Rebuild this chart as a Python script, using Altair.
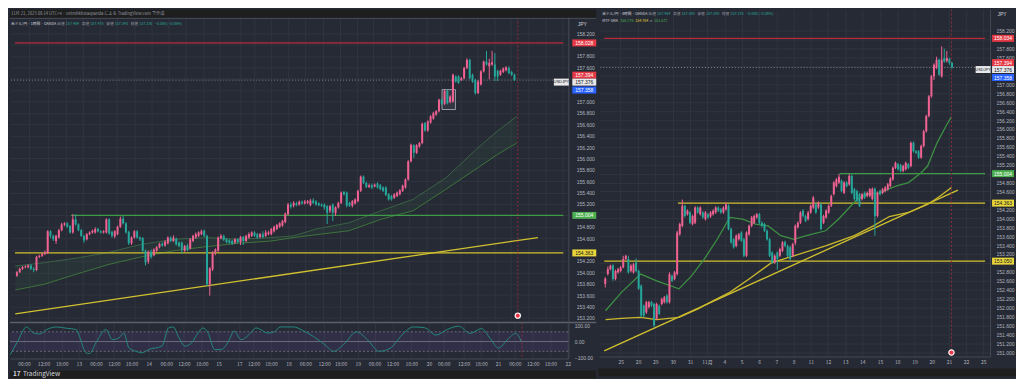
import altair as alt
import pandas as pd

# ---------------- colours / fonts ----------------
FONT = "Noto Sans CJK JP"
NUMF = "Liberation Sans"
BG = "#262a35"
DARK = "#1e1e1e"
GRID = "#30343f"
AXT = "#b2b5be"
BORDER = "#454955"
UP = "#f06292"
DN = "#26a69a"
GRAYT = "#9598a1"
LVL = {"red": "#b8283a", "green": "#3f9a47", "yellow": "#d2c12f"}
BOX = {"red": "#e53945", "green": "#4caf50", "yellow": "#e9d63a", "blue": "#2962ff", "white": "#e8e8ea"}
BOXTXT = {"red": "#ffffff", "green": "#ffffff", "yellow": "#131722", "blue": "#ffffff", "white": "#131722"}

# ---------------- left panel: USD/JPY 1h candles ----------------
L_open = [153.94,154.00,154.06,154.09,154.09,154.12,154.06,154.04,154.27,154.29,
          154.32,154.34,154.72,154.64,154.55,154.61,154.74,154.84,154.86,154.81,
          154.70,154.93,154.84,154.74,154.64,154.58,154.67,154.70,154.70,154.76,
          154.72,154.70,154.70,154.93,154.71,154.63,154.67,154.80,154.94,154.86,
          154.71,154.51,154.61,154.72,154.61,154.60,154.38,154.19,154.36,154.30,
          154.38,154.44,154.50,154.47,154.51,154.61,154.55,154.59,154.52,154.52,
          154.38,154.47,154.42,154.55,154.61,154.64,154.67,154.73,154.64,153.79,
          154.05,154.35,154.38,154.60,154.64,154.58,154.56,154.55,154.52,154.58,
          154.53,154.62,154.55,154.61,154.64,154.70,154.67,154.62,154.67,154.64,
          154.67,154.67,154.72,154.76,154.80,154.82,154.88,155.02,155.19,
          155.17,155.21,155.19,155.24,155.21,155.22,155.18,155.26,155.24,155.21,
          155.19,155.19,155.16,155.08,155.19,155.04,155.14,155.22,155.41,155.40,
          155.22,155.17,155.21,155.25,155.43,155.68,155.57,155.50,155.53,155.51,
          155.56,155.53,155.49,155.49,155.37,155.34,155.31,155.34,155.37,155.43,
          155.49,155.63,155.95,156.23,156.10,156.21,156.27,156.62,156.49,156.63,
          156.70,156.77,156.83,157.03,156.96,157.19,156.99,157.00,157.44,157.44,
          157.38,157.41,157.59,157.73,157.47,157.38,157.15,157.30,157.53,157.70,
          157.62,157.65,157.65,157.54,157.47,157.52,157.55,157.59,157.52,157.47]
L_close = [154.00,154.06,154.09,154.10,154.12,154.06,154.04,154.27,154.29,154.32,
           154.35,154.72,154.64,154.58,154.64,154.74,154.84,154.86,154.80,154.70,
           154.93,154.84,154.74,154.64,154.56,154.67,154.70,154.73,154.76,154.72,
           154.70,154.72,154.93,154.68,154.64,154.72,154.80,154.94,154.86,154.70,
           154.51,154.61,154.72,154.61,154.58,154.38,154.17,154.36,154.27,154.40,
           154.44,154.50,154.47,154.54,154.61,154.55,154.61,154.49,154.46,154.40,
           154.46,154.39,154.58,154.64,154.67,154.70,154.72,154.64,153.79,154.07,
           154.35,154.40,154.61,154.64,154.57,154.53,154.52,154.50,154.58,154.53,
           154.62,154.55,154.64,154.67,154.70,154.64,154.61,154.67,154.62,154.70,
           154.70,154.76,154.80,154.83,154.86,154.90,155.03,155.19,155.15,
           155.22,155.18,155.24,155.21,155.24,155.25,155.26,155.22,155.19,155.18,
           155.17,155.14,155.05,155.16,155.05,155.14,155.22,155.40,155.37,155.17,
           155.17,155.25,155.28,155.43,155.68,155.57,155.50,155.53,155.49,155.54,
           155.49,155.46,155.43,155.36,155.28,155.28,155.37,155.40,155.44,155.52,
           155.63,155.95,156.24,156.10,156.23,156.27,156.61,156.49,156.65,156.74,
           156.80,156.83,157.03,156.96,157.19,156.97,157.09,157.47,157.35,157.33,
           157.41,157.59,157.73,157.41,157.35,157.15,157.35,157.53,157.70,157.65,
           157.68,157.69,157.44,157.44,157.54,157.58,157.60,157.50,157.47,157.38]
L_high = [154.02,154.08,154.11,154.12,154.14,154.14,154.09,154.29,154.31,154.35,
          154.38,154.74,154.74,154.66,154.66,154.76,154.87,154.88,154.88,154.83,
          155.02,155.02,154.86,154.76,154.66,154.69,154.72,154.75,154.79,154.78,
          154.74,154.74,154.95,154.95,154.73,154.74,154.82,154.98,154.99,154.88,
          154.73,154.63,154.74,154.74,154.63,154.62,154.40,154.38,154.40,154.42,
          154.46,154.52,154.53,154.56,154.63,154.63,154.65,154.61,154.54,154.54,
          154.48,154.50,154.60,154.66,154.70,154.72,154.75,154.75,154.66,154.09,
          154.37,154.42,154.63,154.67,154.66,154.60,154.58,154.57,154.60,154.60,
          154.64,154.64,154.66,154.70,154.72,154.72,154.69,154.69,154.72,154.74,
          154.73,154.78,154.82,154.85,154.88,154.92,155.05,155.22,155.23,
          155.25,155.24,155.26,155.26,155.27,155.27,155.29,155.30,155.27,155.23,
          155.21,155.21,155.18,155.18,155.21,155.16,155.24,155.42,155.43,155.42,
          155.24,155.27,155.30,155.45,155.70,155.70,155.59,155.56,155.56,155.56,
          155.58,155.55,155.51,155.51,155.39,155.36,155.39,155.42,155.46,155.54,
          155.65,155.97,156.26,156.25,156.25,156.29,156.63,156.64,156.67,156.76,
          156.82,156.85,157.05,157.05,157.21,157.21,157.11,157.49,157.46,157.46,
          157.43,157.61,157.76,157.75,157.49,157.40,157.38,157.55,157.72,157.89,
          157.75,157.89,157.85,157.56,157.56,157.60,157.62,157.62,157.54,157.49]
L_low = [153.92,153.99,154.04,154.07,154.07,154.04,154.00,154.02,154.25,154.27,
         154.30,154.32,154.60,154.55,154.50,154.59,154.72,154.81,154.78,154.68,
         154.68,154.82,154.72,154.62,154.52,154.56,154.65,154.68,154.68,154.70,
         154.68,154.68,154.68,154.66,154.61,154.60,154.65,154.78,154.84,154.68,
         154.48,154.48,154.59,154.59,154.55,154.35,154.12,154.15,154.24,154.28,
         154.36,154.42,154.45,154.45,154.49,154.53,154.53,154.47,154.44,154.33,
         154.36,154.37,154.40,154.53,154.59,154.62,154.65,154.62,153.76,153.59,
         154.02,154.30,154.36,154.58,154.55,154.51,154.50,154.48,154.50,154.51,
         154.48,154.48,154.53,154.59,154.62,154.62,154.59,154.60,154.60,154.62,
         154.65,154.65,154.70,154.74,154.78,154.80,154.86,155.00,155.12,
         155.14,155.16,155.17,155.19,155.19,155.20,155.16,155.20,155.17,155.16,
         155.15,155.10,154.85,155.04,154.90,154.99,155.12,155.20,155.35,155.14,
         155.15,155.14,155.19,155.23,155.41,155.55,155.48,155.48,155.46,155.49,
         155.47,155.44,155.41,155.34,155.26,155.26,155.29,155.32,155.35,155.41,
         155.47,155.61,155.93,156.01,156.08,156.19,156.25,156.47,156.47,156.61,
         156.68,156.75,156.81,156.94,156.94,156.95,156.97,156.98,157.33,157.31,
         157.36,157.39,157.57,157.39,157.33,157.12,157.13,157.28,157.51,157.63,
         157.39,157.63,157.36,157.36,157.45,157.50,157.53,157.48,157.45,157.36]

# left moving-average cloud (upper / lower edge)
L_band_x = [-0.6, 9.8, 21.4, 33.0, 44.4, 56.3, 67.7, 79.2, 91.0, 99.0,
            107.0, 118.8, 130.2, 141.7, 153.5, 165.0, 171.9, 178.8]
L_band_hi = [154.11, 154.17, 154.25, 154.35, 154.49, 154.58, 154.61, 154.58, 154.61, 154.64,
             154.76, 154.87, 155.08, 155.28, 155.66, 156.19, 156.48, 156.74]
L_band_lo = [153.69, 153.79, 153.97, 154.14, 154.27, 154.38, 154.45, 154.51, 154.55, 154.61,
             154.66, 154.73, 154.93, 155.08, 155.46, 155.84, 156.07, 156.27]

# left rising trendline
L_trend_x = [-0.6, 186.4]
L_trend_p = [153.27, 154.61]

# left horizontal levels
L_lvl_p = [158.03, 155.00, 154.34]
L_lvl_x0 = [-0.7, 19.4, -0.7]
L_lvl_x1 = [195.5, 195.5, 195.5]
L_lvl_kind = ["red", "green", "yellow"]

# left oscillator pane
O_x = [-0.6, 1.7, 5.2, 7.5, 9.8, 12.2, 15.6, 19.1, 22.6, 23.7, 26.0, 27.2, 29.5, 33.0, 35.3,
       37.6, 39.3, 41.1, 43.4, 45.7, 48.0, 52.7, 55.0, 56.7, 58.4, 60.8, 63.1, 65.4, 67.1, 68.9,
       71.2, 73.5, 75.8, 78.1, 80.5, 83.9, 85.7, 87.4, 89.7, 92.0, 94.3, 99.0,
       102, 106, 110, 113, 117, 121, 125, 129, 133, 137, 141, 145, 149, 153, 157, 161, 165,
       168, 171, 174, 177, 179]
O_v = [-80, -8, 90, 53, 47, 74, 90, 82, 74, 33, -69, -74, -8, 74, 12,
       23, 53, -39, -59, -69, -49, -28, 84, 90, 33, -28, -8, 53, 84, 53,
       -49, -49, -8, 64, 12, 53, 84, 74, 53, 58, 90, 90,
       70, 30, -20, -60, -10, 60, 10, -60, -40, 40, 90, 85, 40, 75, 95, 50, 80,
       20, -40, 10, 50, 0]

# left axes
L_xtick_pos = [4.2, 11.1, 17.5, 23.5, 29.5, 35.8, 42.0, 48.1, 54.2, 60.4, 66.7, 72.6, 79.9, 84.9,
               91.0, 97.2, 103.1, 109.7, 115.5, 121.5, 127.4, 133.7, 140.3, 146.5, 151.7, 158.7,
               164.8, 170.8, 176.7, 183.0, 189.2, 195.3]
L_xtick_lab = ["06:00", "12:00", "18:00", "13", "06:00", "12:00", "18:00", "14", "06:00", "12:00",
               "18:00", "15", "17", "12:00", "18:00", "18", "06:00", "12:00", "18:00", "19",
               "06:00", "12:00", "18:00", "20", "06:00", "12:00", "18:00", "21", "06:00", "12:00",
               "18:00", "22"]
L_ytick = [158.2, 158.0, 157.8, 157.6, 157.4, 157.2, 157.0, 156.8, 156.6, 156.4, 156.2, 156.0,
           155.8, 155.6, 155.4, 155.2, 155.0, 154.8, 154.6, 154.4, 154.2, 154.0, 153.8, 153.6,
           153.4, 153.2]
L_yhidden = [158.0, 157.4, 157.2, 155.0, 154.4]   # covered by the price tags
O_ytick = [100, 0, -100]

# ---------------- right panel: USD/JPY 4h candles ----------------
R_open = [152.53,152.75,152.86,152.94,152.64,152.79,152.82,152.90,153.09,153.09,
          152.82,152.79,153.01,152.82,152.49,152.04,151.89,152.01,152.12,152.08,
          151.75,152.04,152.08,152.12,152.27,152.12,152.71,152.64,152.75,153.64,
          153.83,154.28,154.09,154.13,153.87,153.90,154.24,154.09,154.13,153.98,
          154.09,154.04,154.09,154.13,154.24,154.20,154.13,154.20,154.28,153.76,
          153.53,153.38,153.53,153.68,153.53,153.16,153.64,153.83,153.90,154.02,
          154.09,153.90,153.87,153.72,153.53,153.23,153.01,153.23,153.16,153.27,
          153.47,153.38,153.35,153.16,153.45,153.80,153.90,154.17,154.05,153.98,
          154.13,154.24,154.31,154.24,154.31,153.90,154.02,154.13,154.28,154.54,
          154.72,154.80,154.84,154.57,154.80,154.76,154.95,154.65,154.61,154.54,
          154.43,154.57,154.50,154.50,154.43,154.66,154.05,154.61,154.57,154.61,
          154.65,154.72,154.87,155.13,155.21,155.19,155.06,155.10,155.21,155.17,
          155.69,155.50,155.50,155.36,155.62,155.95,156.29,156.73,157.18,157.37,
          157.55,157.18,157.59,157.52,157.57,157.48]
R_close = [152.65,152.86,152.94,152.64,152.82,152.86,152.90,153.09,153.16,152.79,
           152.94,152.97,152.82,152.42,151.82,151.82,152.12,152.12,152.04,151.60,
           152.08,151.86,152.19,152.23,152.12,152.75,152.60,152.79,153.68,153.87,
           154.28,154.05,154.17,153.90,154.05,154.24,154.13,154.24,154.02,154.13,
           154.02,154.13,154.17,154.24,154.17,154.13,154.24,154.31,153.76,153.46,
           153.35,153.61,153.64,153.50,153.16,153.68,153.83,154.02,154.05,154.09,
           153.90,153.83,153.72,153.53,153.16,153.01,153.16,153.09,153.31,153.46,
           153.38,153.16,153.09,153.42,153.83,153.90,154.13,154.05,153.94,154.13,
           154.28,154.46,154.13,154.35,153.76,154.05,154.17,154.28,154.50,154.80,
           154.87,154.93,154.61,154.80,154.72,154.95,154.57,154.43,154.39,154.28,
           154.54,154.46,154.57,154.65,154.66,154.05,154.57,154.54,154.65,154.69,
           154.76,154.89,155.13,155.24,155.10,155.06,155.17,155.24,155.13,155.69,
           155.50,155.47,155.36,155.62,155.95,156.29,156.73,157.18,157.44,157.55,
           157.22,157.55,157.51,157.59,157.48,157.38]
R_high = [152.68,152.92,152.96,152.97,152.85,152.89,152.93,153.16,153.18,153.16,
          152.97,153.00,153.10,152.85,152.52,152.07,152.15,152.15,152.15,152.11,
          152.11,152.07,152.22,152.26,152.30,152.79,152.74,152.82,153.72,153.90,
          154.42,154.30,154.20,154.16,154.08,154.27,154.27,154.27,154.16,154.16,
          154.12,154.16,154.20,154.27,154.27,154.23,154.27,154.36,154.31,153.79,
          153.56,153.64,153.67,153.71,153.56,153.71,153.86,154.05,154.08,154.12,
          154.12,153.93,153.90,153.75,153.56,153.26,153.19,153.26,153.34,153.49,
          153.50,153.41,153.38,153.45,153.86,153.93,154.16,154.20,154.08,154.16,
          154.31,154.50,154.34,154.38,154.34,154.08,154.20,154.31,154.53,154.83,
          154.90,154.99,154.87,154.83,154.83,154.99,154.98,154.68,154.64,154.57,
          154.57,154.60,154.60,154.68,154.69,154.69,154.60,154.64,154.68,154.72,
          154.79,154.92,155.16,155.27,155.24,155.22,155.20,155.27,155.24,155.72,
          155.72,155.53,155.53,155.65,155.98,156.32,156.76,157.21,157.47,157.62,
          157.58,157.85,157.80,157.75,157.60,157.50]
R_low = [152.45,152.72,152.83,152.60,152.61,152.76,152.79,152.88,153.06,152.76,
         152.79,152.76,152.79,152.40,151.78,151.79,151.86,151.98,152.01,151.56,
         151.72,151.83,152.05,152.09,152.09,152.09,152.57,152.61,152.72,153.61,
         153.80,154.02,154.06,153.87,153.84,153.87,154.10,154.06,153.99,153.95,
         153.99,154.01,154.06,154.10,154.14,154.10,154.10,154.17,153.73,153.43,
         153.32,153.35,153.50,153.47,153.13,153.13,153.61,153.80,153.87,153.99,
         153.87,153.80,153.69,153.50,153.13,152.98,152.98,152.85,153.13,153.24,
         153.35,153.13,153.06,153.13,153.40,153.77,153.87,154.02,153.91,153.95,
         154.10,154.21,154.10,154.21,153.73,153.87,153.99,154.10,154.25,154.51,
         154.69,154.77,154.58,154.54,154.69,154.73,154.54,154.40,154.36,154.25,
         154.40,154.43,154.47,154.47,154.40,153.61,154.02,154.51,154.54,154.58,
         154.62,154.69,154.84,155.10,155.07,155.03,155.03,155.07,155.10,155.14,
         155.47,155.44,155.33,155.33,155.59,155.92,156.26,156.70,157.10,157.34,
         157.19,157.15,157.48,157.49,157.44,157.35]

# right MTF-SMA lines (green fast, yellow slow) and trendline
R_ma_x = [0.1, 6.3, 13.8, 20.0, 28.7, 33.6, 38.6, 43.6, 48.5, 53.5, 58.5, 63.4, 68.4, 73.4,
          78.3, 85.8, 90.8, 95.7, 98.2, 101.9, 106.9, 113.1, 118.1, 123.0, 125.5, 129.2, 133.0, 134.8]
R_ma_p = [151.93, 152.34, 152.75, 152.60, 152.42, 152.71, 153.09, 153.53, 154.02, 153.98, 153.87,
          153.83, 153.61, 153.53, 153.61, 153.72, 153.98, 154.28, 154.43, 154.54, 154.57, 154.72,
          154.80, 155.02, 155.17, 155.69, 156.10, 156.27]
R_sma_x = [0.1, 6.3, 13.8, 20.0, 28.7, 36.1, 42.3, 48.5, 56.0, 64.6, 73.4, 85.8, 97.0, 104.4,
           110.6, 118.1, 125.5, 130.4, 134.8]
R_sma_p = [151.73, 151.76, 151.78, 151.73, 151.78, 151.97, 152.16, 152.34, 152.64, 153.00, 153.16,
           153.38, 153.61, 153.83, 154.04, 154.13, 154.31, 154.50, 154.69]
R_trend_x = [-0.4, 137.3]
R_trend_p = [151.03, 154.63]

R_lvl_p = [158.03, 155.00, 154.34, 153.04]
R_lvl_x0 = [-0.4, 91.2, 28.3, -0.4]
R_lvl_x1 = [147.9, 147.9, 147.9, 147.9]
R_lvl_kind = ["red", "green", "yellow", "yellow"]

R_xtick_pos = [6.0, 12.8, 19.5, 26.3, 33.0, 39.6, 46.4, 53.1, 59.9, 66.6, 73.3, 80.0, 86.7,
               93.4, 100.1, 107.0, 113.7, 120.4, 127.1, 133.8, 140.5, 147.2]
R_xtick_lab = ["25", "28", "29", "30", "31", "11月", "4", "5", "6", "7", "8", "11", "12", "13",
               "14", "15", "18", "19", "20", "21", "22", "25"]
R_ytick = [158.2, 158.0, 157.8, 157.6, 157.4, 157.2, 157.0, 156.8, 156.6, 156.4, 156.2, 156.0,
           155.8, 155.6, 155.4, 155.2, 155.0, 154.8, 154.6, 154.4, 154.2, 154.0, 153.8, 153.6,
           153.4, 153.2, 153.0, 152.8, 152.6, 152.4, 152.2, 152.0, 151.8, 151.6, 151.4, 151.2, 151.0]
R_yhidden = [158.0, 157.4, 157.2, 155.0, 154.4, 153.0]   # covered by the price tags

# shared quote info
LAST = 157.376
NOW_L = 179.2
NOW_R = 134.8

# price-scale tags (text, price, kind)
L_tag_txt = ["158.028", "155.004", "154.363"]
L_tag_p = [158.03, 155.00, 154.34]
L_tag_kind = ["red", "green", "yellow"]
R_tag_txt = ["158.034", "155.004", "154.363", "153.050"]
R_tag_p = [158.03, 155.00, 154.34, 153.04]
R_tag_kind = ["red", "green", "yellow", "yellow"]
Q_tag_txt = ["157.394", "157.376", "157.358"]
Q_tag_kind = ["red", "white", "blue"]

# legend texts
L_leg = ["米ドル/円 · 1時間 · OANDA", "始値", "157.464", "高値", "157.470", "安値", "157.340",
         "終値", "157.376", "−0.088 (−0.06%)"]
R_leg = ["米ドル/円 · 4時間 · OANDA", "始値", "157.464", "高値", "157.590", "安値", "157.340",
         "終値", "157.376", "−0.088 (−0.06%)"]
R_leg2 = ["MTF-SMA", "156.276", "154.764", "ø", "151.572"]
HEADER = "11月 21, 2025 08:14 UTC+9 · unimhkbstaspanda による TradingView.com で作成"

# ---------------- geometry ----------------
W_L, H_L, H_O = 560, 312, 36
W_R, H_R = 392, 348
L_xdom, L_ydom, O_ydom = [-0.7, 195.5], [153.151, 158.616], [-104.3, 116.6]
R_xdom, R_ydom = [-0.4, 147.9], [150.904, 158.675]
LEG_X = [1, 47.5, 56, 72, 80.5, 96.5, 105, 121, 129.5, 145.5]
LEG_C = ["#d1d4dc", GRAYT, DN, GRAYT, DN, GRAYT, DN, GRAYT, DN, DN]

for a in (L_close, L_high, L_low):
    assert len(a) == len(L_open)
for a in (R_close, R_high, R_low):
    assert len(a) == len(R_open)
assert len(O_x) == len(O_v)
assert len(R_ma_x) == len(R_ma_p) and len(R_sma_x) == len(R_sma_p)
assert len(L_xtick_pos) == len(L_xtick_lab) and len(R_xtick_pos) == len(R_xtick_lab)


def num_list(vals):
    return "[" + ",".join(repr(float(v)) for v in vals) + "]"


def lab_expr(pos, lab):
    return ("[" + ",".join("'" + s + "'" for s in lab) + "][indexof("
            + num_list(pos) + ", datum.value)]")


def one():
    return pd.DataFrame({"k": [0]})


def yaxis(vals, fmt, pad, grid=True, hidden=None):
    kw = {}
    if hidden:
        kw["labelExpr"] = ("indexof(" + num_list(hidden) + ", datum.value) >= 0 ? '' : format(datum.value, '"
                           + fmt + "')")
    return alt.Axis(orient="right", values=vals, format=fmt, labelFontSize=5, labelFont=NUMF,
                    labelColor=AXT, labelPadding=pad, ticks=False, domain=True,
                    domainColor=BORDER, grid=grid, gridColor=GRID, title=None,
                    labelOverlap=False, labelBound=False, labelFlush=False, **kw)


def xaxis_lab(pos, lab):
    return alt.Axis(values=pos, labelExpr=lab_expr(pos, lab), labelFontSize=5, labelFont=FONT,
                    labelColor=AXT, labelPadding=3, ticks=False, domain=True,
                    domainColor=BORDER, grid=True, gridColor=GRID, title=None,
                    labelOverlap=False, labelFlush=False, labelBound=False,
                    minExtent=12, maxExtent=12)


class Panel:
    """Holds one pane's scales and axes so that every layer shares identical definitions."""

    def __init__(self, xdom, ydom, xaxis, yaxis_):
        self.xs = alt.Scale(domain=xdom, nice=False, zero=False)
        self.ys = alt.Scale(domain=ydom, nice=False, zero=False)
        self.xa = xaxis
        self.ya = yaxis_

    def X(self, f):
        return alt.X(f, type="quantitative", scale=self.xs, axis=self.xa)

    def Y(self, f):
        return alt.Y(f, type="quantitative", scale=self.ys, axis=self.ya)


PL = Panel(L_xdom, L_ydom,
           alt.Axis(values=L_xtick_pos, labels=False, ticks=False, domain=False, grid=True,
                    gridColor=GRID, title=None, minExtent=0, maxExtent=0),
           yaxis(L_ytick, ".3f", 8, hidden=L_yhidden))
PO = Panel(L_xdom, O_ydom, xaxis_lab(L_xtick_pos, L_xtick_lab), yaxis(O_ytick, ".2f", 6, grid=False))
PR = Panel(R_xdom, R_ydom, xaxis_lab(R_xtick_pos, R_xtick_lab), yaxis(R_ytick, ".3f", 6, hidden=R_yhidden))


def candle_layers(P, o, c, h, l):
    df = pd.DataFrame({"i": list(range(len(o))), "o": o, "c": c, "h": h, "l": l,
                       "d": ["up" if cc >= oo else "down" for oo, cc in zip(o, c)]})
    col = alt.Color("d:N", scale=alt.Scale(domain=["up", "down"], range=[UP, DN]), legend=None)
    wick = alt.Chart(df).mark_rule(strokeWidth=1).encode(x=P.X("i"), y=P.Y("l"), y2="h:Q", color=col)
    body = alt.Chart(df).mark_bar(width=2).encode(x=P.X("i"), y=P.Y("o"), y2="c:Q", color=col)
    return [wick, body]


def level_layers(P, ps, x0s, x1s, kinds):
    out = []
    for p, a, b, k in zip(ps, x0s, x1s, kinds):
        d = pd.DataFrame({"p": [p], "a": [a], "b": [b]})
        out.append(alt.Chart(d).mark_rule(color=LVL[k], strokeWidth=1.2).encode(
            x=P.X("a"), x2="b:Q", y=P.Y("p")))
    return out


def tag_layers(P, txts, ps, kinds, xc, size, yoff=None):
    out = []
    for j, (t, p, k) in enumerate(zip(txts, ps, kinds)):
        d = pd.DataFrame({"p": [p], "t": [t]})
        dy = 0 if yoff is None else yoff[j]
        out.append(alt.Chart(d).mark_tick(color=BOX[k], opacity=1, thickness=7, size=size,
                                          yOffset=dy).encode(y=P.Y("p"), x=alt.value(xc)))
        out.append(alt.Chart(d).mark_text(color=BOXTXT[k], fontSize=5, font=NUMF,
                                          align="center", baseline="middle", yOffset=dy).encode(
            y=P.Y("p"), x=alt.value(xc), text="t:N"))
    return out


def text_layer(txts, xs_px, y_px, colors, size=3.7, weight="normal"):
    out = []
    for t, x, c in zip(txts, xs_px, colors):
        out.append(alt.Chart(pd.DataFrame({"t": [t]})).mark_text(
            align="left", baseline="middle", fontSize=size, font=FONT, color=c,
            fontWeight=weight).encode(x=alt.value(x), y=alt.value(y_px), text="t:N"))
    return out


def line_layer(P, xv, pv, color, width=1.2, opacity=1.0):
    d = pd.DataFrame({"x": xv, "p": pv})
    return alt.Chart(d).mark_line(color=color, strokeWidth=width, opacity=opacity).encode(
        x=P.X("x"), y=P.Y("p"))


def last_line(P):
    return alt.Chart(pd.DataFrame({"p": [LAST]})).mark_rule(
        color=GRAYT, strokeDash=[1, 2], opacity=0.8).encode(y=P.Y("p"))


def last_tags(P, W, xc, size):
    out = tag_layers(P, Q_tag_txt, [LAST] * 3, Q_tag_kind, xc, size, [-5, 2, 10])
    out.append(alt.Chart(pd.DataFrame({"p": [LAST]})).mark_tick(
        color="#e8e8ea", thickness=7, size=15, opacity=1, yOffset=2).encode(
        y=P.Y("p"), x=alt.value(W - 7)))
    out.append(alt.Chart(pd.DataFrame({"p": [LAST], "t": ["USDJPY"]})).mark_text(
        fontSize=4, font=NUMF, color="#131722", yOffset=2).encode(
        y=P.Y("p"), x=alt.value(W - 7), text="t:N"))
    return out


# ---------------- left main pane ----------------
band_df = pd.DataFrame({"x": L_band_x, "hi": L_band_hi, "lo": L_band_lo})
LL = []
LL.append(alt.Chart(band_df).mark_area(color="#4caf50", opacity=0.07).encode(
    x=PL.X("x"), y=PL.Y("hi"), y2="lo:Q"))
LL.append(line_layer(PL, L_band_x, L_band_hi, "#3d6e47", 1, 0.8))
LL.append(line_layer(PL, L_band_x, L_band_lo, "#3f7a3c", 1, 0.9))
LL += level_layers(PL, L_lvl_p, L_lvl_x0, L_lvl_x1, L_lvl_kind)
LL.append(line_layer(PL, L_trend_x, L_trend_p, LVL["yellow"], 1.3))
LL.append(last_line(PL))
LL.append(alt.Chart(pd.DataFrame({"v": [NOW_L]})).mark_rule(
    color="#8d2c3a", strokeDash=[2, 2]).encode(x=PL.X("v")))
LL.append(alt.Chart(pd.DataFrame({"a": [152.1], "b": [156.9], "p1": [157.21], "p2": [156.86]}))
          .mark_rect(fill=GRAYT, fillOpacity=0.12, stroke=AXT, strokeWidth=0.8)
          .encode(x=PL.X("a"), x2="b:Q", y=PL.Y("p1"), y2="p2:Q"))
LL += candle_layers(PL, L_open, L_close, L_high, L_low)
LL.append(alt.Chart(one()).mark_rect(color=DARK).encode(
    x=alt.value(0), x2=alt.value(W_L + 28), y=alt.value(0), y2=alt.value(8)))
LL.append(alt.Chart(one()).mark_rule(color=BORDER).encode(
    x=alt.value(0), x2=alt.value(W_L + 28), y=alt.value(9)))
LL += text_layer([HEADER], [1], 4, [GRAYT], 4.2)
LL += text_layer(L_leg, LEG_X, 14, LEG_C)
LL += tag_layers(PL, L_tag_txt, L_tag_p, L_tag_kind, W_L + 16, 24)
LL += last_tags(PL, W_L, W_L + 16, 24)
LL.append(alt.Chart(pd.DataFrame({"t": ["JPY"]})).mark_text(
    fontSize=5, font=NUMF, color="#d1d4dc").encode(x=alt.value(W_L + 14), y=alt.value(14), text="t:N"))
LL.append(alt.Chart(pd.DataFrame({"v": [NOW_L]})).mark_point(
    filled=True, size=28, color="#f23645", stroke="#ffffff", strokeWidth=1.2, opacity=1).encode(
    x=PL.X("v"), y=alt.value(H_L - 5)))
left_main = alt.layer(*LL).properties(width=W_L, height=H_L)

# ---------------- left oscillator pane ----------------
OL = []
OL.append(alt.Chart(pd.DataFrame({"a": [60], "b": [-60]})).mark_rect(
    color="#7e57c2", opacity=0.13).encode(
    x=alt.value(0), x2=alt.value(W_L), y=PO.Y("a"), y2="b:Q"))
OL.append(alt.Chart(pd.DataFrame({"p": [60, -60]})).mark_rule(
    color="#787b86", strokeDash=[2, 2], strokeWidth=0.8).encode(y=PO.Y("p")))
OL.append(alt.Chart(pd.DataFrame({"p": [0]})).mark_rule(
    color="#787b86", strokeWidth=0.8).encode(y=PO.Y("p")))
OL.append(alt.Chart(pd.DataFrame({"x": O_x, "v": O_v})).mark_line(
    color="#23877d", strokeWidth=1, interpolate="monotone").encode(x=PO.X("x"), y=PO.Y("v")))
OL.append(alt.Chart(pd.DataFrame({"v": [NOW_L]})).mark_rule(
    color="#8d2c3a", strokeDash=[2, 2]).encode(x=PO.X("v")))
OL.append(alt.Chart(one()).mark_rule(color="#5d606b", strokeWidth=1.5).encode(
    x=alt.value(0), x2=alt.value(W_L + 28), y=alt.value(0)))
OL.append(alt.Chart(one()).mark_rect(color=DARK).encode(
    x=alt.value(0), x2=alt.value(W_L + 28), y=alt.value(H_O + 12), y2=alt.value(H_O + 20)))
OL += text_layer(["TradingView"], [13], H_O + 16, ["#d1d4dc"], 6.5)
OL += text_layer(["17"], [3], H_O + 16, ["#d1d4dc"], 6.5, "bold")
left_osc = alt.layer(*OL).properties(width=W_L, height=H_O)

left = alt.vconcat(left_main, left_osc, spacing=0)

# ---------------- right pane ----------------
RL = []
RL += level_layers(PR, R_lvl_p, R_lvl_x0, R_lvl_x1, R_lvl_kind)
RL.append(line_layer(PR, R_trend_x, R_trend_p, LVL["yellow"], 1.3))
RL.append(line_layer(PR, R_sma_x, R_sma_p, "#cbb92c", 1.3))
RL.append(line_layer(PR, R_ma_x, R_ma_p, "#3c8f43", 1.3))
RL.append(last_line(PR))
RL.append(alt.Chart(pd.DataFrame({"v": [NOW_R]})).mark_rule(
    color="#8d2c3a", strokeDash=[2, 2]).encode(x=PR.X("v")))
RL += candle_layers(PR, R_open, R_close, R_high, R_low)
RL += text_layer(R_leg, [x + 2 for x in LEG_X], 4, LEG_C)
RL += text_layer(R_leg2, [3, 21, 36, 51, 55], 11,
                 ["#d1d4dc", "#4caf50", "#e0cc35", GRAYT, "#4caf50"])
RL += tag_layers(PR, R_tag_txt, R_tag_p, R_tag_kind, W_R + 13, 22)
RL += last_tags(PR, W_R, W_R + 13, 22)
RL.append(alt.Chart(pd.DataFrame({"t": ["JPY"]})).mark_text(
    fontSize=5, font=NUMF, color="#d1d4dc").encode(x=alt.value(W_R + 12), y=alt.value(4), text="t:N"))
RL.append(alt.Chart(pd.DataFrame({"v": [NOW_R]})).mark_point(
    filled=True, size=28, color="#f23645", stroke="#ffffff", strokeWidth=1.2, opacity=1).encode(
    x=PR.X("v"), y=alt.value(H_R - 4)))
RL.append(alt.Chart(one()).mark_rect(color=DARK).encode(
    x=alt.value(-1), x2=alt.value(W_R + 26), y=alt.value(H_R + 12), y2=alt.value(H_R + 20)))
right = alt.layer(*RL).properties(width=W_R, height=H_R)

chart = (alt.hconcat(left, right, spacing=1)
         .properties(padding=0, background=BG)
         .configure_view(stroke=None, fill=BG)
         .configure_text(font=FONT))

chart.save("out.html", embed_options={"renderer": "svg", "actions": False})
